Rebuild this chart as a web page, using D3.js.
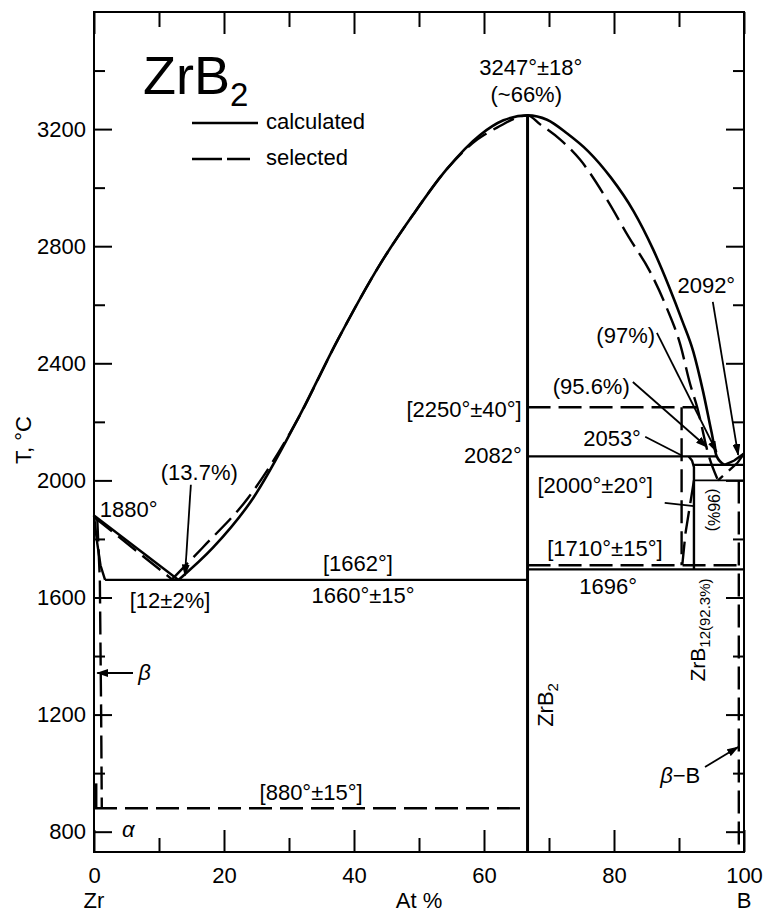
<!DOCTYPE html>
<html>
<head>
<meta charset="utf-8">
<script src="https://cdn.jsdelivr.net/npm/d3@7"></script>
<style>
  body { margin: 0; background: #fff; }
  svg text { font-family: "Liberation Sans", Arial, sans-serif; fill: #000; }
</style>
</head>
<body>
<div id="container"></div>
<script>
// ---- data (at.% B, temperature °C) ----
const xMajor = [0, 20, 40, 60, 80, 100];
const xMinor = [10, 30, 50, 70, 90];
const yMajor = [800, 1200, 1600, 2000, 2400, 2800, 3200];
const yMinor = [1000, 1400, 1800, 2200, 2600, 3000, 3400];
const endNames = [[0, "Zr"], [50, "At %"], [100, "B"]];

// calculated liquidus (solid)
const liqCalcZr = [[0, 1880], [13, 1660]];
const liqCalc = [[13, 1660], [18.3, 1770], [24.5, 1940], [31.2, 2203], [37.5, 2480], [44, 2738],
  [49.1, 2908], [54.3, 3064], [59.4, 3180], [63, 3230], [66.7, 3247], [69.7, 3232], [72.8, 3185],
  [76, 3125], [79.5, 3035], [83, 2920], [86, 2790], [88.5, 2660], [90.5, 2545], [92.2, 2440],
  [93.7, 2304], [95, 2165], [95.8, 2082], [97, 2053]];
const liqCalcB = [[100, 2092], [98.5, 2068], [97, 2053]];

// selected liquidus (dashed)
const liqSelZr = [[0, 1875], [12, 1662]];
const liqSel = [[12, 1662], [16.7, 1770], [23.7, 1940], [31.2, 2203], [37.5, 2480], [44, 2738],
  [49.1, 2908], [54.3, 3064], [59, 3165], [62, 3205], [66.7, 3247], [68.6, 3217], [71.7, 3165],
  [74.8, 3095], [78.9, 2960], [82.3, 2830], [85.5, 2715], [88.1, 2590], [90.2, 2464],
  [91.7, 2330], [92.8, 2250], [94.5, 2090], [96, 2000]];
const liqSelB = [[100, 2092], [99, 2060], [96, 2000]];

// isotherms: [T, from, to]
const isoCalc = [[1660, 1.7, 66.7], [2082, 66.7, 95.8], [2053, 92.3, 100], [1696, 66.7, 100], [2000, 92.3, 100]];
const isoSel = [[880, 0, 66.7], [2250, 66.7, 92.8], [1710, 66.7, 100]];

// other boundaries
const solidusZr = [[0, 1880], [0.45, 1793], [1.0, 1710], [1.7, 1660]];
const alphaZr = [[0.3, 965], [0.3, 880]];
const zrb2Line = [[66.7, 3247], [66.7, 731]];
const zrb12Calc = [[91.5, 2082], [92.0, 2068], [92.3, 2045], [92.3, 1696]];
const betaZrSel = [[0.5, 1870], [0.9, 1660], [1.1, 1200], [1.2, 880]];
const zrb12Sel = [[90.4, 2250], [90.4, 1710]];
const zrb12Sel2 = [[92.3, 2000], [91.0, 1820], [90.5, 1710]];
const betaBSel = [[99.2, 2000], [99.2, 731]];

// leader lines [x0, T0, x1, T1, arrowhead]
const leaders = [
  [14.9, 1985, 14.0, 1675, true],
  [6.0, 1342, 0.5, 1342, true],
  [94.0, 1021, 99.1, 1089, true],
  [95.2, 2610, 99.1, 2087, true],
  [86.6, 2504, 95.8, 2097, true],
  [82.9, 2336, 94.3, 2114, true],
  [84.8, 2149, 90.5, 2084, false],
  [87.8, 1923, 92.3, 1912, false]
];

// annotations [x, T, text]
const notesMid = [
  [67.2, 3385, "3247°±18°"], [66.5, 3293, "(~66%)"], [94.2, 2641, "2092°"],
  [81.8, 2470, "(97%)"], [76.5, 2296, "(95.6%)"], [79.7, 2118, "2053°"],
  [77.1, 1957, "[2000°±20°]"], [78.6, 1742, "[1710°±15°]"], [79.1, 1612, "1696°"],
  [16.2, 2002, "(13.7%)"], [11.7, 1564, "[12±2%]"], [40.6, 1691, "[1662°]"],
  [41.4, 1581, "1660°±15°"], [33.4, 908, "[880°±15°]"]
];
const notesEnd = [[65.8, 2060, "2082°"], [65.8, 2217, "[2250°±40°]"]];
const notesStart = [[0.9, 1875, "1880°"]];

// ---- drawing ----
const W = 764, H = 914;
const svg = d3.select("#container").append("svg")
  .attr("width", W).attr("height", H);

const x = d3.scaleLinear().domain([0, 100]).range([94, 744]);
const y = d3.scaleLinear().domain([730.6, 3600]).range([852, 12]);

svg.append("defs").append("marker")
  .attr("id", "arr")
  .attr("markerUnits", "userSpaceOnUse")
  .attr("markerWidth", 12).attr("markerHeight", 8)
  .attr("refX", 11).attr("refY", 4)
  .attr("orient", "auto")
  .append("path").attr("d", "M0,0L12,4L0,8Z").attr("fill", "#000");

const FS = 22;

// axes (ticks pointing inward)
function styleAxis(g) {
  g.select(".domain").remove();
  g.selectAll("line").attr("stroke", "#000").attr("stroke-width", 2);
  g.selectAll("text").attr("font-size", FS).attr("fill", "#000")
    .attr("font-family", "Liberation Sans, Arial, sans-serif");
}
svg.append("g").attr("transform", "translate(0,852)")
  .call(d3.axisBottom(x).tickValues(xMajor).tickSize(-22).tickPadding(15)).call(styleAxis);
svg.append("g").attr("transform", "translate(0,852)")
  .call(d3.axisBottom(x).tickValues(xMinor).tickSize(-14).tickFormat("")).call(styleAxis);
svg.append("g").attr("transform", "translate(0,12)")
  .call(d3.axisTop(x).tickValues(xMajor).tickSize(-22).tickFormat("")).call(styleAxis);
svg.append("g").attr("transform", "translate(0,12)")
  .call(d3.axisTop(x).tickValues(xMinor).tickSize(-15).tickFormat("")).call(styleAxis);
svg.append("g").attr("transform", "translate(94,0)")
  .call(d3.axisLeft(y).tickValues(yMajor).tickSize(-18).tickPadding(8).tickFormat(d3.format("d")))
  .call(styleAxis);
svg.append("g").attr("transform", "translate(94,0)")
  .call(d3.axisLeft(y).tickValues(yMinor).tickSize(-11).tickFormat("")).call(styleAxis);
svg.append("g").attr("transform", "translate(744,0)")
  .call(d3.axisRight(y).tickValues(yMajor).tickSize(-18).tickFormat("")).call(styleAxis);
svg.append("g").attr("transform", "translate(744,0)")
  .call(d3.axisRight(y).tickValues(yMinor).tickSize(-11).tickFormat("")).call(styleAxis);

svg.append("rect")
  .attr("x", x(0)).attr("y", y(3600))
  .attr("width", x(100) - x(0)).attr("height", y(730.6) - y(3600))
  .attr("fill", "none").attr("stroke", "#000").attr("stroke-width", 2);

svg.selectAll(".endname").data(endNames).join("text")
  .attr("x", d => x(d[0])).attr("y", 908)
  .attr("text-anchor", "middle").attr("font-size", FS)
  .text(d => d[1]);

svg.append("text")
  .attr("transform", "translate(31,440) rotate(-90)")
  .attr("text-anchor", "middle").attr("font-size", FS)
  .text("T, °C");

// curves
const smooth = d3.line().x(d => x(d[0])).y(d => y(d[1])).curve(d3.curveMonotoneX);
const straight = d3.line().x(d => x(d[0])).y(d => y(d[1]));
const DASH = "23,8";

function draw(data, gen, dashed, w) {
  svg.append("path").datum(data)
    .attr("d", gen)
    .attr("fill", "none").attr("stroke", "#000")
    .attr("stroke-width", w || 2.4)
    .attr("stroke-dasharray", dashed ? DASH : null);
}

// selected (dashed) first, calculated (solid) on top
draw(liqSelZr, straight, true);
draw(liqSel, smooth, true);
draw(liqSelB, straight, true);
draw(betaZrSel, straight, true);
draw(zrb12Sel, straight, true);
draw(zrb12Sel2, straight, true);
draw(betaBSel, straight, true);
isoSel.forEach(d => draw([[d[1], d[0]], [d[2], d[0]]], straight, true));

draw(liqCalcZr, straight, false);
draw(liqCalc, smooth, false, 2.6);
draw(liqCalcB, straight, false);
draw(solidusZr, straight, false);
draw(alphaZr, straight, false, 3);
draw(zrb2Line, straight, false, 3);
draw(zrb12Calc, straight, false);
isoCalc.forEach(d => draw([[d[1], d[0]], [d[2], d[0]]], straight, false, d[0] === 2000 ? 1.6 : 2.2));

// leaders
svg.selectAll(".leader").data(leaders).join("line")
  .attr("x1", d => x(d[0])).attr("y1", d => y(d[1]))
  .attr("x2", d => x(d[2])).attr("y2", d => y(d[3]))
  .attr("stroke", "#000").attr("stroke-width", 1.8)
  .attr("marker-end", d => d[4] ? "url(#arr)" : null);

// annotations
function notes(data, anchor) {
  svg.selectAll(null).data(data).join("text")
    .attr("x", d => x(d[0])).attr("y", d => y(d[1]))
    .attr("text-anchor", anchor).attr("font-size", FS)
    .text(d => d[2]);
}
notes(notesMid, "middle");
notes(notesEnd, "end");
notes(notesStart, "start");

// greek labels
svg.append("text").attr("x", x(6.8)).attr("y", y(1318))
  .attr("font-size", FS).attr("font-style", "italic").text("β");
svg.append("text").attr("x", x(4.3)).attr("y", y(782))
  .attr("font-size", FS).attr("font-style", "italic").text("α");
const bb = svg.append("text").attr("x", x(87.1)).attr("y", y(966)).attr("font-size", FS);
bb.append("tspan").attr("font-style", "italic").text("β");
bb.append("tspan").text("−B");

// rotated phase labels
const zrb2 = svg.append("text")
  .attr("transform", `translate(${x(70.6)},${y(1233)}) rotate(-90)`)
  .attr("text-anchor", "middle").attr("font-size", FS);
zrb2.append("tspan").text("ZrB");
zrb2.append("tspan").attr("font-size", 15).attr("dy", 5).text("2");

const zrb12 = svg.append("text")
  .attr("transform", `translate(${x(94.0)},${y(1489)}) rotate(-90)`)
  .attr("text-anchor", "middle").attr("font-size", 21);
zrb12.append("tspan").text("ZrB");
zrb12.append("tspan").attr("font-size", 15).attr("dy", 5).text("12(92.3%)");

svg.append("text")
  .attr("transform", `translate(${x(94.5)},${y(1899)}) rotate(90)`)
  .attr("text-anchor", "middle").attr("font-size", 16)
  .text("(96%)");

// title and legend
const title = svg.append("text").attr("x", 143).attr("y", 94).attr("font-size", 54);
title.append("tspan").text("ZrB");
title.append("tspan").attr("font-size", 33).attr("dy", 12).text("2");

const legend = svg.append("g").attr("transform", "translate(192,0)");
legend.append("line").attr("x1", 0).attr("x2", 66).attr("y1", 123).attr("y2", 123)
  .attr("stroke", "#000").attr("stroke-width", 2.4);
legend.append("line").attr("x1", 0).attr("x2", 58).attr("y1", 159).attr("y2", 159)
  .attr("stroke", "#000").attr("stroke-width", 2.4).attr("stroke-dasharray", "30,5");
legend.append("text").attr("x", 74).attr("y", 129).attr("font-size", FS).text("calculated");
legend.append("text").attr("x", 74).attr("y", 165).attr("font-size", FS).text("selected");
</script>
</body>
</html>
